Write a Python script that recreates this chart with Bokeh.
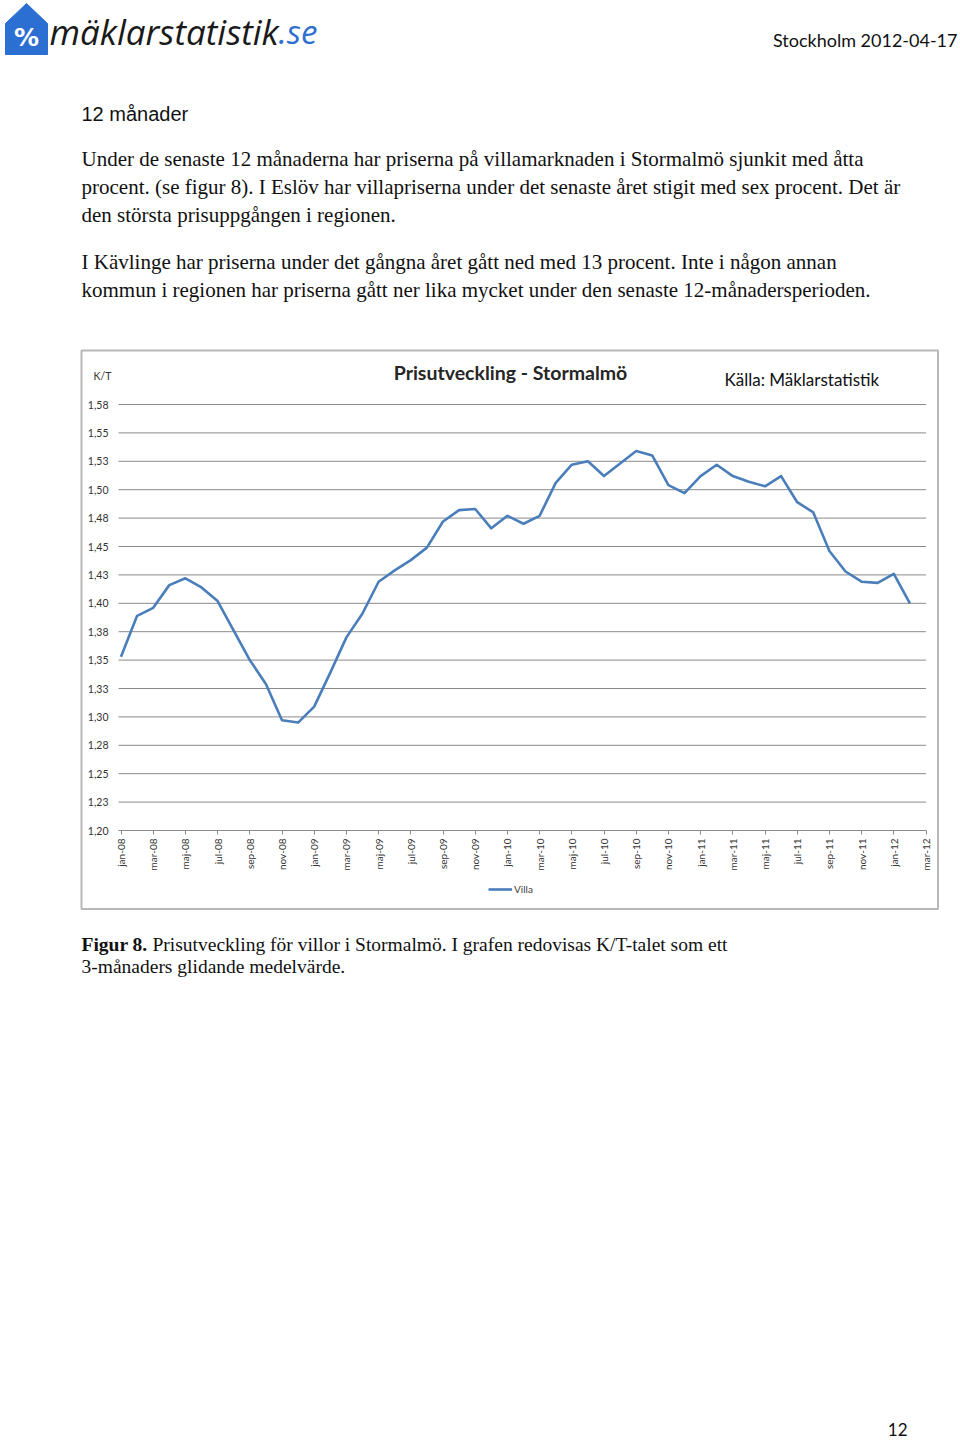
from math import pi
from bokeh.plotting import figure
from bokeh.models import Range1d, FixedTicker, Legend, LegendItem, LinearAxis
from bokeh.embed import file_html
from bokeh.resources import INLINE
from bokeh.core.properties import value

# ---------------- data ----------------
months = ["jan-08", "feb-08", "mar-08", "apr-08", "maj-08", "jun-08", "jul-08", "aug-08", "sep-08", "okt-08", "nov-08", "dec-08",
          "jan-09", "feb-09", "mar-09", "apr-09", "maj-09", "jun-09", "jul-09", "aug-09", "sep-09", "okt-09", "nov-09", "dec-09",
          "jan-10", "feb-10", "mar-10", "apr-10", "maj-10", "jun-10", "jul-10", "aug-10", "sep-10", "okt-10", "nov-10", "dec-10",
          "jan-11", "feb-11", "mar-11", "apr-11", "maj-11", "jun-11", "jul-11", "aug-11", "sep-11", "okt-11", "nov-11", "dec-11",
          "jan-12", "feb-12"]
villa_kt = [1.353, 1.389, 1.396, 1.416, 1.422, 1.414, 1.402, 1.376, 1.350, 1.329, 1.297, 1.295,
            1.309, 1.339, 1.370, 1.391, 1.419, 1.429, 1.438, 1.449, 1.472, 1.482, 1.483, 1.466,
            1.477, 1.470, 1.477, 1.506, 1.522, 1.525, 1.512, 1.523, 1.534, 1.530, 1.504, 1.497,
            1.512, 1.522, 1.512, 1.507, 1.503, 1.512, 1.489, 1.480, 1.446, 1.428, 1.419, 1.418,
            1.426, 1.400]
x_tick_pos = [0, 2, 4, 6, 8, 10, 12, 14, 16, 18, 20, 22, 24, 26, 28, 30, 32, 34, 36, 38, 40, 42, 44, 46, 48, 50]
x_tick_labels = ["jan-08", "mar-08", "maj-08", "jul-08", "sep-08", "nov-08", "jan-09", "mar-09", "maj-09", "jul-09",
                 "sep-09", "nov-09", "jan-10", "mar-10", "maj-10", "jul-10", "sep-10", "nov-10", "jan-11", "mar-11",
                 "maj-11", "jul-11", "sep-11", "nov-11", "jan-12", "mar-12"]
y_ticks = [1.200, 1.225, 1.250, 1.275, 1.300, 1.325, 1.350, 1.375, 1.400, 1.425, 1.450, 1.475, 1.500, 1.525, 1.550, 1.575]
y_tick_labels = ["1,20", "1,23", "1,25", "1,28", "1,30", "1,33", "1,35", "1,38", "1,40", "1,43", "1,45", "1,48",
                 "1,50", "1,53", "1,55", "1,58"]

chart_title = "Prisutveckling - Stormalmö"
source_text = "Källa: Mäklarstatistik"
y_unit = "K/T"
series_name = "Villa"

heading = "12 månader"
paragraph_lines = [
    "Under de senaste 12 månaderna har priserna på villamarknaden i Stormalmö sjunkit med åtta",
    "procent. (se figur 8). I Eslöv har villapriserna under det senaste året stigit med sex procent. Det är",
    "den största prisuppgången i regionen.",
    "I Kävlinge har priserna under det gångna året gått ned med 13 procent. Inte i någon annan",
    "kommun i regionen har priserna gått ner lika mycket under den senaste 12-månadersperioden.",
]
caption_bold = "Figur 8."
caption_lines = ["Prisutveckling för villor i Stormalmö. I grafen redovisas K/T-talet som ett",
                 "3-månaders glidande medelvärde."]

SERIF = "Liberation Serif"
SANS = "Lato"

# ---------------- page geometry (pixels of the page) ----------------
W, H = 960, 1443
PX0, PY0 = 0, 0                      # page offset of the canvas
PX1, PY1 = PX0 + W, PY0 + H
# chart plot area placement
X0_PAGE, PX_PER_MONTH = 120.5, 16.1   # first month position, spacing
Y0_PAGE, PX_PER_UNIT = 830.0, 1136.0  # 1.20 baseline, pixels per K/T unit
Y_BASE = y_ticks[0]
Y_TOP = y_ticks[-1]
X_LO = (118 - X0_PAGE) / PX_PER_MONTH
X_HI = x_tick_pos[-1]

cx_start = -(X0_PAGE - PX0) / PX_PER_MONTH
cx_end = cx_start + W / PX_PER_MONTH
cy_start = Y_BASE - (PY1 - Y0_PAGE) / PX_PER_UNIT
cy_end = Y_BASE + (Y0_PAGE - PY0) / PX_PER_UNIT

p = figure(width=W, height=H, x_range=Range1d(PX0, PX1), y_range=Range1d(PY1, PY0),
           output_backend="svg", toolbar_location=None, min_border=0,
           outline_line_color=None, x_axis_type=None, y_axis_type=None)
p.extra_x_ranges = {"cx": Range1d(cx_start, cx_end)}
p.extra_y_ranges = {"cy": Range1d(cy_start, cy_end)}

# ---------------- logo & header ----------------
p.patch(x=[5, 5, 26, 47, 47], y=[54, 23, 3, 23, 54], fill_color="#2b6fd3", line_color="#2b6fd3", line_width=1)
p.text(x=[26], y=[37], text=["%"], text_font=value("DejaVu Sans"), text_font_style="bold",
       text_font_size="25px", text_color="white", text_align="center", text_baseline="middle")
p.text(x=[49], y=[31], text=["mäklarstatistik"], text_font=value("Open Sans"), text_font_style="italic",
       text_font_size="35px", text_color="#1a1a1a", text_align="left", text_baseline="middle")
p.text(x=[278], y=[31], text=[".se"], text_font=value("Open Sans"), text_font_style="italic",
       text_font_size="33px", text_color="#2e6fd0", text_align="left", text_baseline="middle")
p.text(x=[957], y=[39], text=["Stockholm 2012-04-17"], text_font=value(SANS),
       text_font_size="18px", text_color="#111111", text_align="right", text_baseline="middle")

# ---------------- body text ----------------
p.text(x=[81], y=[113], text=[heading], text_font=value("Liberation Sans"),
       text_font_size="20px", text_color="#111111", text_align="left", text_baseline="middle")
p.text(x=[81] * 5, y=[158, 186, 214, 261, 289], text=paragraph_lines, text_font=value(SERIF),
       text_font_size="21px", text_color="#111111", text_align="left", text_baseline="middle")

# ---------------- chart box ----------------
p.quad(left=[81], right=[937.5], top=[350], bottom=[908.5], fill_color=None,
       line_color="#b8b8b8", line_width=2)
p.text(x=[510], y=[372], text=[chart_title], text_font=value(SANS), text_font_style="bold",
       text_font_size="19.5px", text_color="#262626", text_align="center", text_baseline="middle")
p.text(x=[724], y=[379], text=[source_text], text_font=value(SANS),
       text_font_size="17px", text_color="#111111", text_align="left", text_baseline="middle")
p.text(x=[93], y=[375], text=[y_unit], text_font=value(SANS),
       text_font_size="10.5px", text_color="#333333", text_align="left", text_baseline="middle")

# gridlines at the y ticks
p.segment(x0=[X_LO] * len(y_ticks), x1=[X_HI] * len(y_ticks), y0=y_ticks, y1=y_ticks,
          x_range_name="cx", y_range_name="cy", line_color="#8a8a8a", line_width=1)

r = p.line(x=list(range(len(villa_kt))), y=villa_kt, x_range_name="cx", y_range_name="cy",
           line_color="#4a7ebb", line_width=2.6, line_join="round")

xaxis = LinearAxis(x_range_name="cx", y_range_name="cy", fixed_location=Y_BASE, bounds=(X_LO, X_HI),
                   ticker=FixedTicker(ticks=x_tick_pos),
                   major_label_overrides=dict(zip(x_tick_pos, x_tick_labels)),
                   major_label_orientation=pi / 2,
                   axis_line_color="#8a8a8a", major_tick_line_color="#8a8a8a",
                   minor_tick_line_color=None, major_tick_out=4, major_tick_in=0,
                   major_label_standoff=4, major_label_text_font=SANS,
                   major_label_text_font_size="10px", major_label_text_color="#333333")
p.add_layout(xaxis, "below")

yaxis = LinearAxis(x_range_name="cx", y_range_name="cy", fixed_location=X_LO, bounds=(Y_BASE, Y_TOP),
                   ticker=FixedTicker(ticks=y_ticks),
                   major_label_overrides=dict(zip(y_ticks, y_tick_labels)),
                   axis_line_color=None, major_tick_line_color=None, minor_tick_line_color=None,
                   major_tick_out=0, major_tick_in=0, major_label_standoff=10,
                   major_label_text_font=SANS, major_label_text_font_size="10.5px",
                   major_label_text_color="#333333")
p.add_layout(yaxis, "left")

legend = Legend(items=[LegendItem(label=series_name, renderers=[r])], location=(488 - PX0, PY1 - 895),
                orientation="horizontal", glyph_width=24, glyph_height=10, label_height=10,
                label_standoff=2, padding=0, margin=0, spacing=0, border_line_color=None,
                background_fill_alpha=0, label_text_font=SANS, label_text_font_size="10px",
                label_text_color="#404040", label_text_baseline="middle")
p.add_layout(legend, "center")

# ---------------- caption & page number ----------------
p.text(x=[81], y=[944], text=[caption_bold], text_font=value(SERIF), text_font_style="bold",
       text_font_size="19.5px", text_color="#111111", text_align="left", text_baseline="middle")
p.text(x=[152, 81], y=[944, 966], text=caption_lines, text_font=value(SERIF),
       text_font_size="19.5px", text_color="#111111", text_align="left", text_baseline="middle")
p.text(x=[907], y=[1429], text=["12"], text_font=value(SANS), text_font_size="17px",
       text_color="#111111", text_align="right", text_baseline="middle")

open("out.html", "w").write(file_html(p, INLINE))
